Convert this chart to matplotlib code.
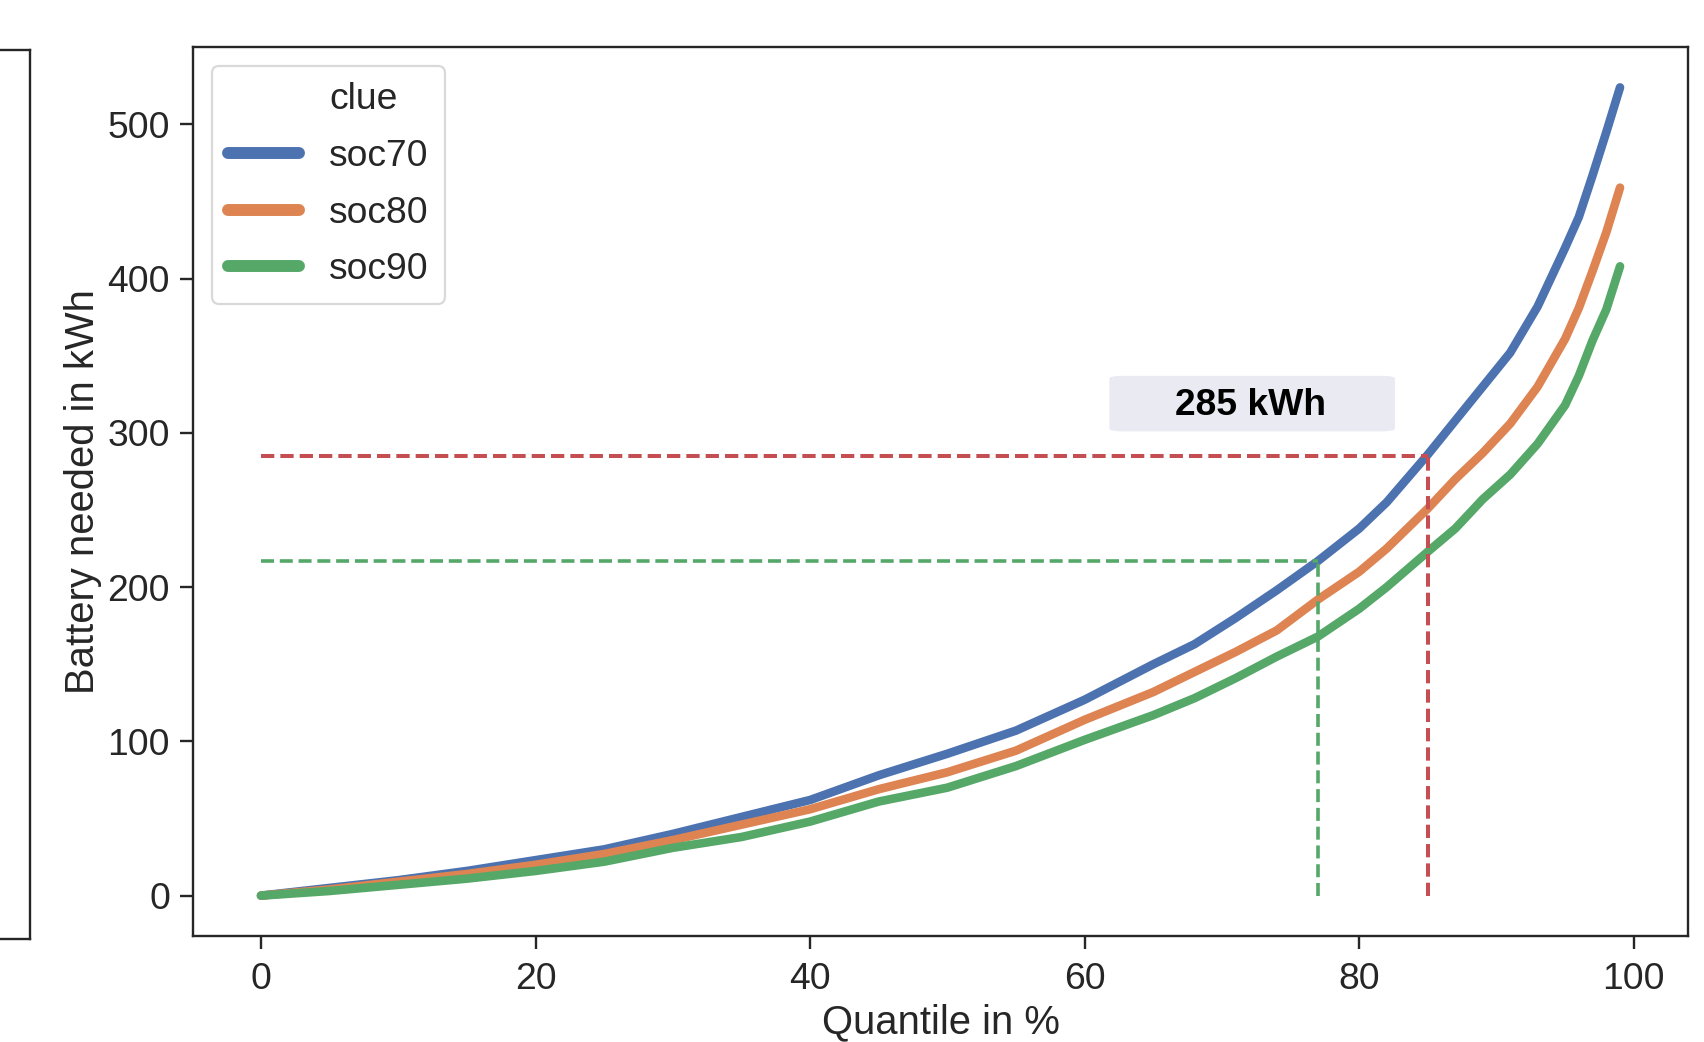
import numpy as np
import matplotlib
matplotlib.use("Agg")
import matplotlib.pyplot as plt
from matplotlib.lines import Line2D
from matplotlib.patches import FancyBboxPatch

# -----------------------------
# Data
# -----------------------------
quantiles = [0, 5, 10, 15, 20, 25, 30, 35, 40, 45, 50, 55, 60, 65, 68,
             71, 74, 77, 80, 82, 85, 87, 89, 91, 93, 95, 96, 97, 98, 99]
soc70 = [0, 5, 10, 16, 23, 30, 40, 51, 62, 78, 92, 107, 127, 150, 163,
         180, 198, 217, 238, 255, 286, 308, 330, 352, 382, 420, 440, 467, 495, 524]
soc80 = [0, 4, 9, 14, 20, 27, 36, 46, 56, 69, 80, 94, 114, 132, 145,
         158, 172, 192, 210, 225, 251, 270, 287, 306, 330, 361, 381, 405, 430, 459]
soc90 = [0, 3, 7, 11, 16, 22, 31, 38, 48, 61, 70, 84, 101, 117, 128,
         141, 155, 168, 186, 200, 223, 238, 257, 273, 293, 318, 337, 360, 380, 408]
series_names = ["soc70", "soc80", "soc90"]
series_colors = ["#4c72b0", "#dd8452", "#55a868"]

red_q, red_val = 85, 285
green_q, green_val = 77, 217
box_label = "285 kWh"

# -----------------------------
# Style
# -----------------------------
plt.rcParams["font.family"] = ["Liberation Sans", "DejaVu Sans"]
plt.rcParams["text.color"] = "#262626"
plt.rcParams["axes.labelcolor"] = "#262626"
plt.rcParams["xtick.color"] = "#262626"
plt.rcParams["ytick.color"] = "#262626"

fig = plt.figure(figsize=(8.52, 5.21), dpi=200)

# fragment of the neighbouring panel on the left
ax_left = fig.add_axes([-0.2, 0.0988, 0.2176, 0.853])
ax_left.set_xticks([])
ax_left.set_yticks([])
for s in ax_left.spines.values():
    s.set_linewidth(0.85)
    s.set_color("#262626")

ax = fig.add_axes([0.1133, 0.1017, 0.8773, 0.8532])

for name, vals, col in zip(series_names, [soc70, soc80, soc90], series_colors):
    ax.plot(quantiles, vals, color=col, lw=3.1, solid_capstyle="round",
            solid_joinstyle="round", label=name)

# reference lines
ax.plot([0, red_q], [red_val, red_val], ls="--", color="#c44e52", lw=1.45, dashes=(3.3, 1.5))
ax.plot([red_q, red_q], [0, red_val], ls="--", color="#c44e52", lw=1.45, dashes=(3.3, 1.5))
ax.plot([0, green_q], [green_val, green_val], ls="--", color="#55a868", lw=1.3, dashes=(3.6, 1.6))
ax.plot([green_q, green_q], [0, green_val], ls="--", color="#55a868", lw=1.3, dashes=(3.6, 1.6))

# label box
box = FancyBboxPatch((61.8, 301), 20.8, 36,
                     boxstyle="round,pad=0,rounding_size=1.0",
                     mutation_aspect=1.7,
                     facecolor="#eaeaf2", edgecolor="none", zorder=1)
ax.add_patch(box)
ax.text(72.1, 318, box_label, ha="center", va="center", fontsize=13.4,
        fontweight="bold", color="black", zorder=2)

ax.set_xlim(-4.95, 103.95)
ax.set_ylim(-26.2, 550.2)
ax.set_xticks([0, 20, 40, 60, 80, 100])
ax.set_yticks([0, 100, 200, 300, 400, 500])
ax.tick_params(labelsize=13.4, length=4.8, width=0.85, pad=3.5)
ax.tick_params(axis="x", pad=4.5)
for s in ax.spines.values():
    s.set_linewidth(0.85)
    s.set_color("#262626")

ax.set_xlabel("Quantile in %", fontsize=14.4, labelpad=2.5)
ax.set_ylabel("Battery needed in kWh", fontsize=14.4, labelpad=2)

# legend with seaborn-style title row
handles = [Line2D([], [], color="none", label="clue")]
for name, col in zip(series_names, series_colors):
    handles.append(Line2D([], [], color=col, lw=4.3, solid_capstyle="round", label=name))
leg = ax.legend(handles=handles, loc="upper left", fontsize=13.4,
                handlelength=1.9, labelspacing=0.58, borderpad=0.45,
                handletextpad=0.8, fancybox=True, framealpha=1)
leg.get_frame().set_edgecolor("#d9d9d9")
leg.get_frame().set_linewidth(0.8)

fig.savefig("out.png", dpi=200)
